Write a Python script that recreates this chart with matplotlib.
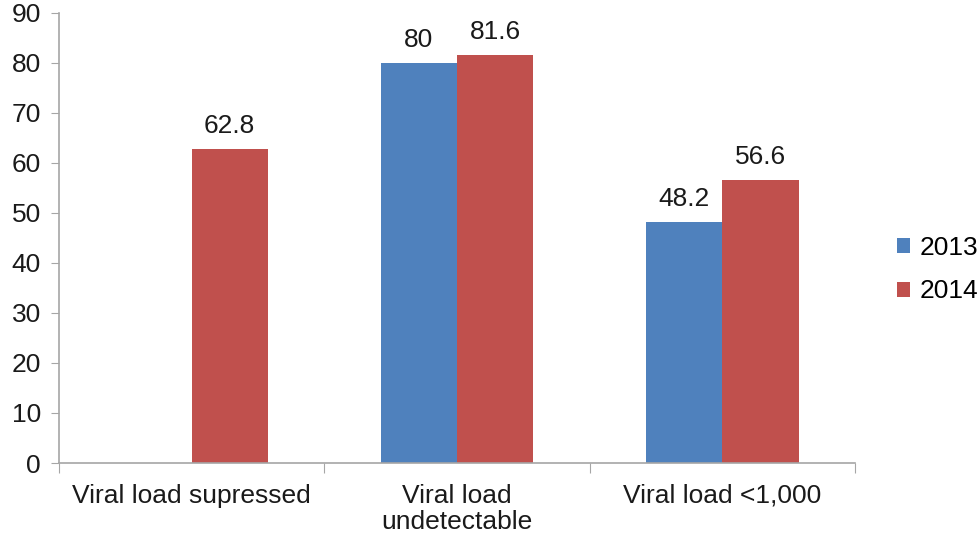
import matplotlib.pyplot as plt
import numpy as np

plt.rcParams['font.family'] = ['Liberation Sans', 'DejaVu Sans']

# Data
categories = ["Viral load supressed", "Viral load\nundetectable", "Viral load <1,000"]
years = ["2013", "2014"]
values_2013 = [np.nan, 80, 48.2]
values_2014 = [62.8, 81.6, 56.6]

colors = {"2013": "#4F81BD", "2014": "#C0504D"}
axis_gray = "#A6A6A6"
fs = 19

fig = plt.figure(figsize=(9.78, 5.39), dpi=100)
ax = fig.add_axes([0.0603, 0.141, 0.814, 0.835])

x = np.arange(len(categories))
w = 0.287

for offset, year, vals in [(-w / 2, "2013", values_2013), (w / 2, "2014", values_2014)]:
    ax.bar(x + offset, vals, width=w, color=colors[year], label=year)
    for xi, v in zip(x + offset, vals):
        if np.isnan(v):
            continue
        ax.annotate(f"{v:g}", (xi, v), xytext=(0, 8), textcoords="offset points",
                    ha="center", va="bottom", fontsize=fs, color="#1a1a1a")

# Axes styling
ax.set_xlim(-0.5, len(categories) - 0.5)
ax.set_ylim(0, 90)
ax.set_yticks(range(0, 91, 10))
ax.tick_params(axis="y", labelsize=fs, length=6, color=axis_gray, pad=7, labelcolor="#1a1a1a")

# category ticks at boundaries, labels at centres
ax.set_xticks(np.arange(-0.5, len(categories), 1.0))
ax.set_xticklabels([])
ax.set_xticks(x, minor=True)
ax.set_xticklabels(categories, minor=True, fontsize=fs, color="#1a1a1a", linespacing=1.1)
ax.tick_params(axis="x", which="minor", length=0, pad=15)
ax.tick_params(axis="x", which="major", length=7, color=axis_gray)

for side in ["top", "right"]:
    ax.spines[side].set_visible(False)
for side in ["left", "bottom"]:
    ax.spines[side].set_color(axis_gray)
    ax.spines[side].set_linewidth(1.2)

ax.legend(loc="center left", bbox_to_anchor=(0.917, 0.50), bbox_transform=fig.transFigure,
          frameon=False, fontsize=fs, handlelength=0.5, handleheight=0.5,
          handletextpad=0.35, labelspacing=0.75, borderaxespad=0, borderpad=0)

fig.savefig("out.png", dpi=100)
